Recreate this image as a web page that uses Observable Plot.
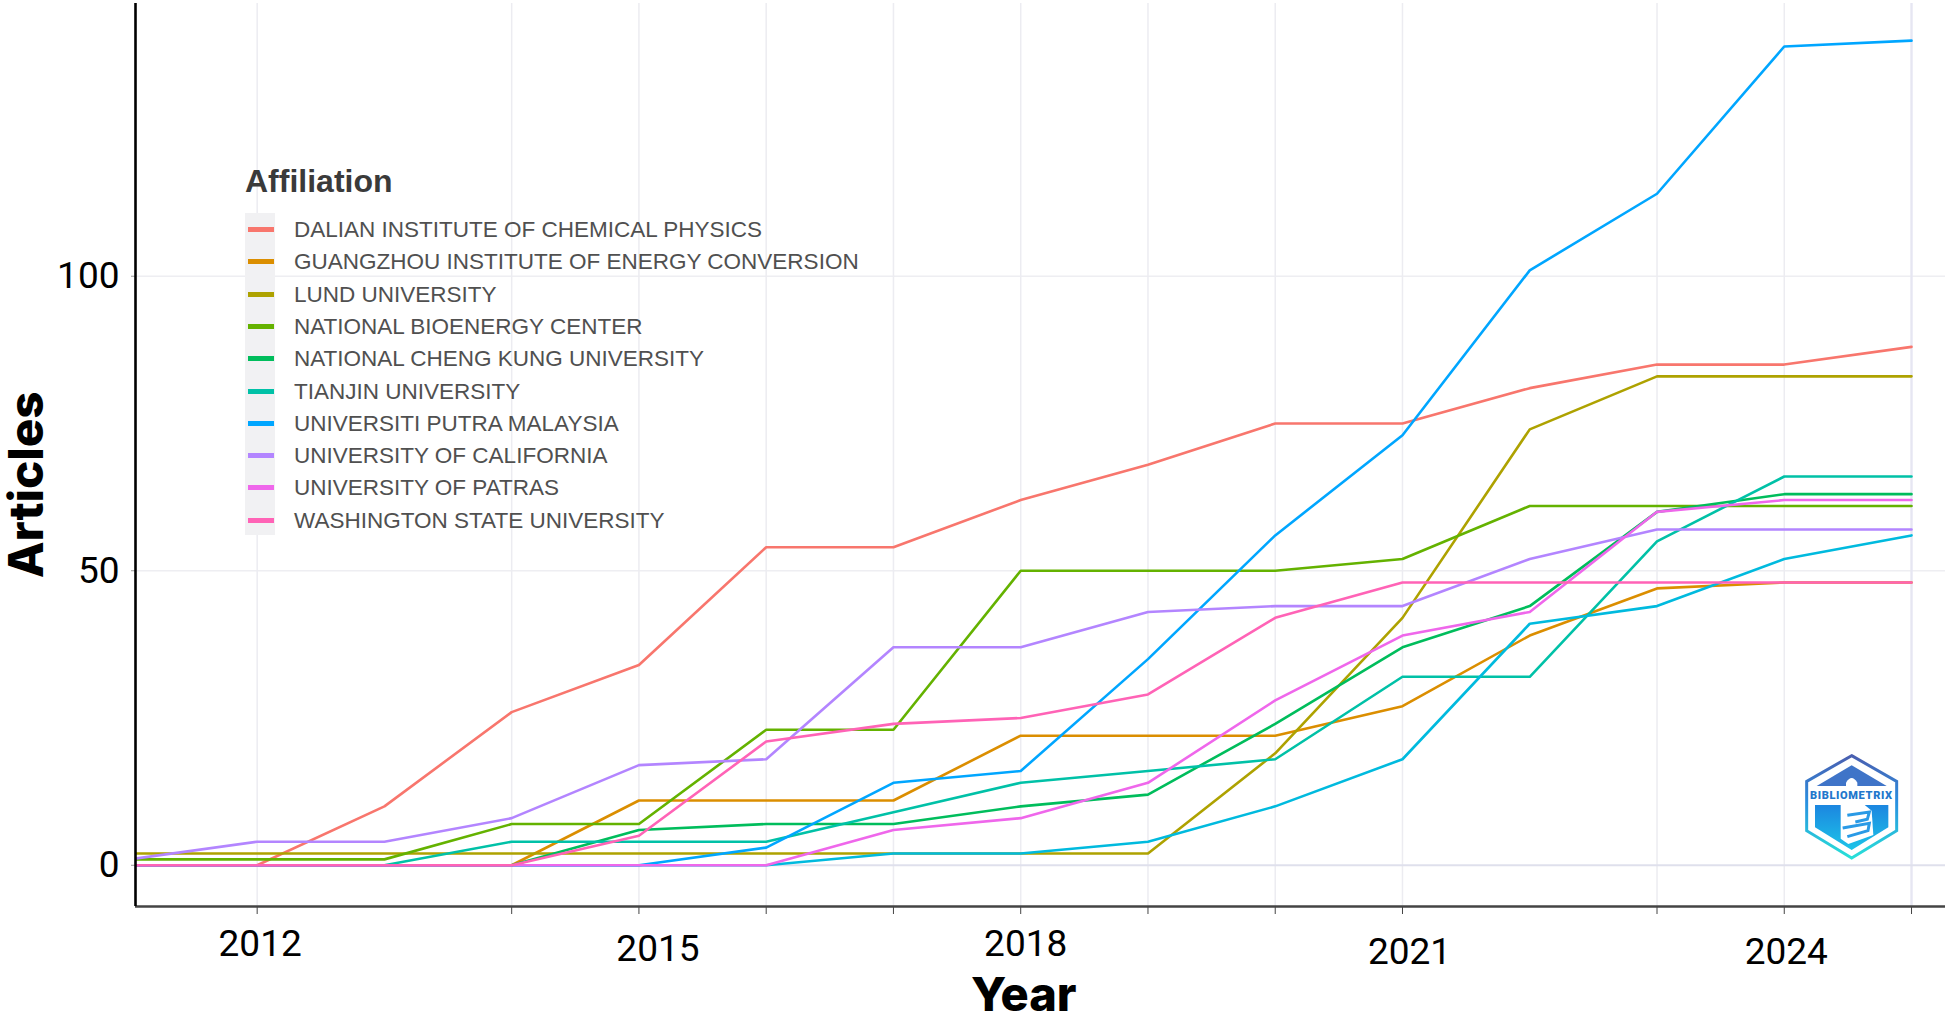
<!DOCTYPE html>
<html><head><meta charset="utf-8">
<style>
html,body{margin:0;padding:0;background:#fff;width:1945px;height:1019px;overflow:hidden}
#chart{position:absolute;left:0;top:0}
#legend{position:absolute;left:245px;top:1px;font-family:"Liberation Sans",Arial,sans-serif}
#legend .title{position:absolute;left:0;top:161px;font-size:32px;font-weight:700;color:#3a3a3a;white-space:nowrap;line-height:38px}
#legend .keys{position:absolute;left:0;top:212px;width:30px;height:322px;background:#f1f1f3}
#legend .row{position:absolute;left:0;height:32px;white-space:nowrap}
#legend .swatch{position:absolute;left:3px;top:14px;width:26px;height:5px}
#legend .name{position:absolute;left:49px;top:1px;line-height:32px;font-size:22.5px;color:#505050}
#logo{position:absolute;left:1790px;top:740px}
</style>
<script src="https://cdn.jsdelivr.net/npm/d3@7"></script>
<script src="https://cdn.jsdelivr.net/npm/@observablehq/plot@0.6"></script>
</head><body>
<div id="chart"></div>
<div id="legend"></div>
<svg id="logo" width="130" height="130" viewBox="0 0 390 390" aria-label="Bibliometrix logo">
  <defs>
    <linearGradient id="lgA" x1="0" y1="0" x2="0" y2="1"><stop offset="0" stop-color="#4a5fb0"/><stop offset=".45" stop-color="#2a8fe0"/><stop offset="1" stop-color="#28e0d8"/></linearGradient>
    <linearGradient id="lgB" x1="0" y1="0" x2="0" y2="1"><stop offset="0" stop-color="#1c86e0"/><stop offset="1" stop-color="#1cc4e8"/></linearGradient>
  </defs>
  <polygon points="185,47 320,124 320,272 185,354 50,272 50,124" fill="#fff" stroke="url(#lgA)" stroke-width="9"/>
  <polygon points="185,76 290,138 80,138" fill="#3f74c8"/>
  <polygon points="75,195 295,195 295,262 185,330 75,262" fill="url(#lgB)"/>
  <path d="M168,150 V128 Q185,100 202,128 V150 Z" fill="#fff"/>
  <polygon points="152,190 218,190 245,212 250,285 175,312 152,296" fill="#fff"/>
  <path d="M172,226 L238,216 L232,238 L196,246 M158,264 L238,250 L234,272 L172,290" fill="none" stroke="#2a9ae6" stroke-width="9"/>
  <text x="184" y="178" text-anchor="middle" font-family="Roboto,sans-serif" font-weight="900" font-size="33" letter-spacing="2" fill="#2277cc" stroke="#fff" stroke-width="4" paint-order="stroke">BIBLIOMETRIX</text>
</svg>
<script>
const years = [2011,2012,2013,2014,2015,2016,2017,2018,2019,2020,2021,2022,2023,2024,2025];
const dalian     = [0,0,10,26,34,54,54,62,68,75,75,81,85,85,88];
const guangzhou  = [0,0,0,0,11,11,11,22,22,22,27,39,47,48,48];
const lund       = [2,2,2,2,2,2,2,2,2,19,42,74,83,83,83];
const bioenergy  = [1,1,1,7,7,23,23,50,50,50,52,61,61,61,61];
const chengKung  = [0,0,0,0,6,7,7,10,12,24,37,44,60,63,63];
const tianjin    = [0,0,0,4,4,4,9,14,16,18,32,32,55,66,66];
const unlisted   = [0,0,0,0,0,0,2,2,4,10,18,41,44,52,56];
const putra      = [0,0,0,0,0,3,14,16,35,56,73,101,114,139,140];
const california = [1,4,4,8,17,18,37,37,43,44,44,52,57,57,57];
const patras     = [0,0,0,0,0,0,6,8,14,28,39,43,60,62,62];
const washington = [0,0,0,0,5,21,24,25,29,42,48,48,48,48,48];

const seriesNames = ["DALIAN INSTITUTE OF CHEMICAL PHYSICS","GUANGZHOU INSTITUTE OF ENERGY CONVERSION","LUND UNIVERSITY","NATIONAL BIOENERGY CENTER","NATIONAL CHENG KUNG UNIVERSITY","TIANJIN UNIVERSITY","(NOT IN LEGEND)","UNIVERSITI PUTRA MALAYSIA","UNIVERSITY OF CALIFORNIA","UNIVERSITY OF PATRAS","WASHINGTON STATE UNIVERSITY"];
const seriesValues = [dalian,guangzhou,lund,bioenergy,chengKung,tianjin,unlisted,putra,california,patras,washington];
const seriesColors = ["#F8766D","#DB8E00","#AEA200","#64B200","#00BD5C","#00C1A7","#00BADE","#00A6FF","#B385FF","#EF67EB","#FF63B6"];

const gridYears = [2012,2014,2015,2016,2017,2018,2019,2020,2021,2023,2024,2025];
const yTicks = [0,50,100];
const xLabels = [2012,2015,2018,2021,2024];

const rows = seriesNames.flatMap((name,i)=>years.map((year,j)=>({name,year,value:seriesValues[i][j]})));

const tickFont = "Roboto, sans-serif";
// hand placement of the year labels, as in the reference: [dx, dy below the frame bottom]
const labelNudge = {2012:[3,49],2015:[19,54],2018:[5,49],2021:[7,57],2024:[2,57]};
const xDomain = [2011.044,2025.267], yDomain = [-7.0,146.3];

const fig = Plot.plot({
  width:1945, height:1019,
  marginLeft:135, marginRight:0, marginTop:3, marginBottom:113,
  style:{background:"#fff",overflow:"visible"},
  x:{domain:xDomain},
  y:{domain:yDomain},
  color:{domain:seriesNames,range:seriesColors},
  marks:[
    Plot.ruleY([50,100],{stroke:"#eeeef2",strokeWidth:1.5}),
    Plot.ruleX(gridYears,{stroke:"#ececf1",strokeWidth:1.5}),
    Plot.ruleX([2025],{stroke:"#e6e6f2",strokeWidth:2.2}),
    Plot.ruleY([0],{stroke:"#dfe0ec",strokeWidth:2.2}),
    Plot.line(rows,{x:"year",y:"value",z:"name",stroke:"name",strokeWidth:2.6,clip:true,curve:"linear",strokeLinejoin:"round"}),
    Plot.axisY({ticks:yTicks,tickSize:4,tickPadding:12,fontSize:37,fontFamily:tickFont,fill:"#000",stroke:"#999",label:null}),
    Plot.axisX({ticks:gridYears,tickSize:8,tickFormat:()=>"",stroke:"#444",label:null}),
    ...xLabels.map(y=>Plot.text([y],{x:d=>d,text:d=>String(d),frameAnchor:"bottom",lineAnchor:"bottom",
      dx:labelNudge[y][0],dy:labelNudge[y][1],fontSize:37,fontFamily:tickFont,fill:"#000"})),
    Plot.ruleY([yDomain[0]],{stroke:"#444",strokeWidth:2.6}),
    Plot.ruleX([xDomain[0]],{stroke:"#000",strokeWidth:2.6}),
    Plot.text(["Year"],{x:2018,text:d=>d,frameAnchor:"bottom",lineAnchor:"middle",dx:3,dy:89,fontSize:47,fontWeight:800,fontFamily:"Inter, sans-serif",fill:"#000"}),
    Plot.text(["Articles"],{y:64.6,text:d=>d,frameAnchor:"left",rotate:-90,textAnchor:"middle",dx:-108,fontSize:47.5,fontWeight:800,fontFamily:"Inter, sans-serif",fill:"#000"})
  ]
});
document.getElementById("chart").appendChild(fig);

const legend = document.getElementById("legend");
const t = document.createElement("div"); t.className="title"; t.textContent="Affiliation"; legend.appendChild(t);
const k = document.createElement("div"); k.className="keys"; legend.appendChild(k);
let r = 0;
seriesNames.forEach((name,i)=>{
  if(name==="(NOT IN LEGEND)") return;
  const row=document.createElement("div"); row.className="row"; row.style.top=(212+r*32.3)+"px";
  const s=document.createElement("div"); s.className="swatch"; s.style.background=seriesColors[i]; row.appendChild(s);
  const n=document.createElement("div"); n.className="name"; n.textContent=name; row.appendChild(n);
  legend.appendChild(row); r++;
});
</script>
</body></html>
